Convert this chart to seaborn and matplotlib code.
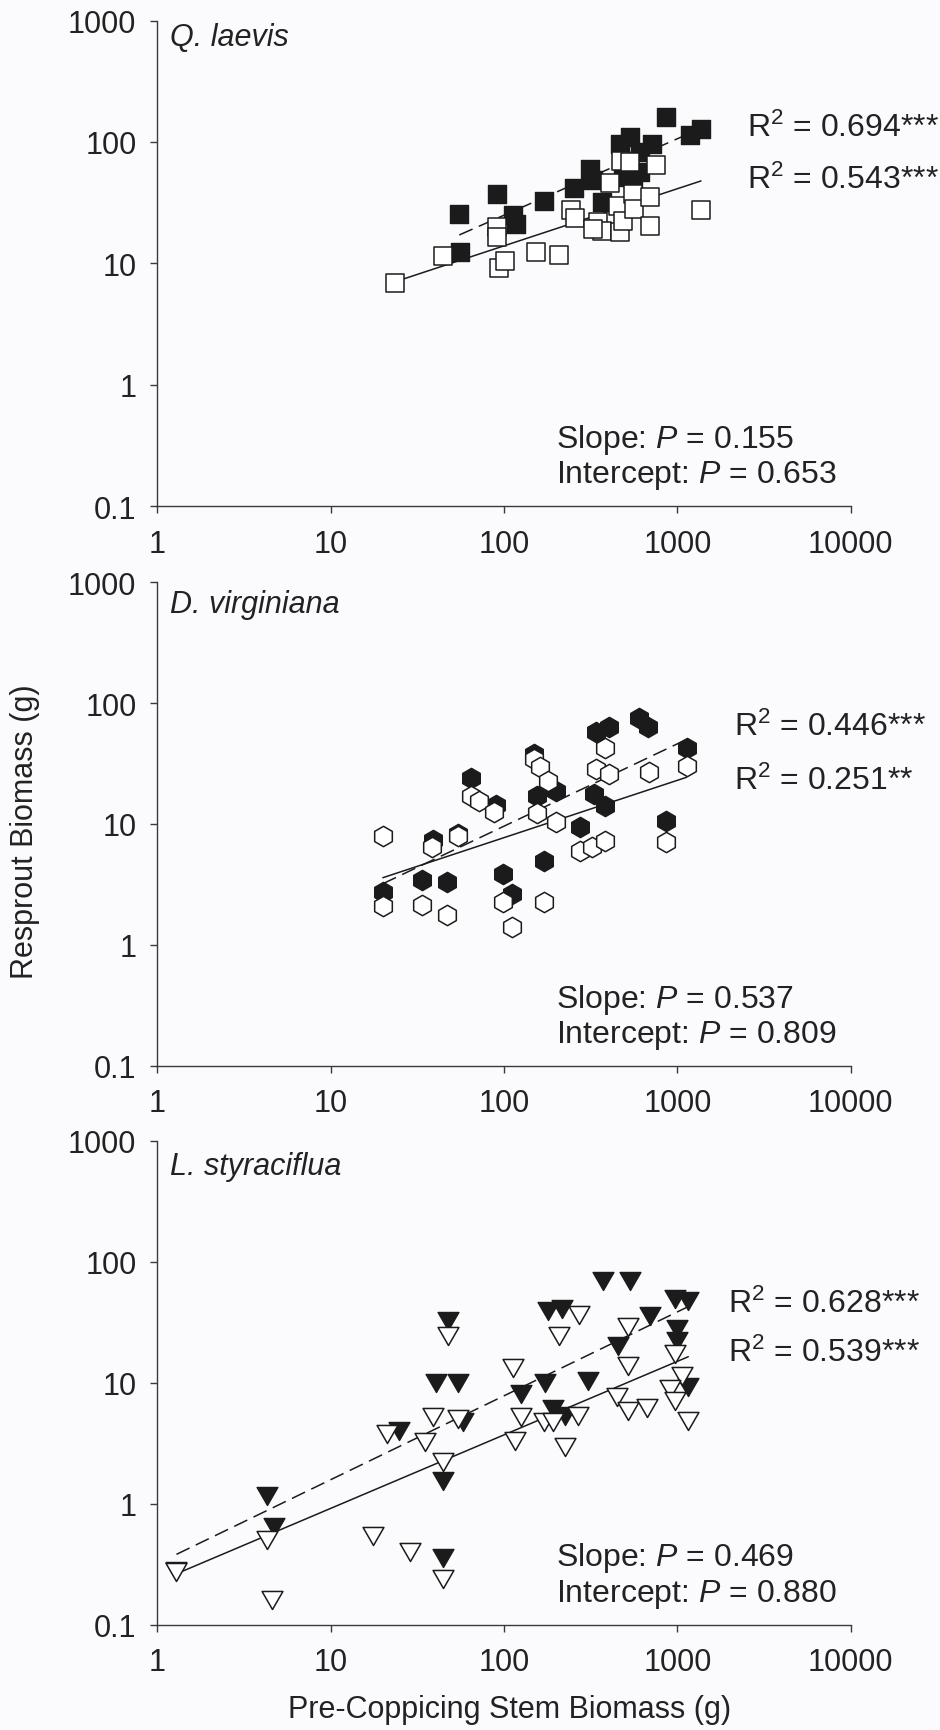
import numpy as np
import pandas as pd
import matplotlib
matplotlib.use("Agg")
import matplotlib.pyplot as plt
from matplotlib.markers import MarkerStyle
from matplotlib.path import Path
import seaborn as sns

# ---- data: pre-coppicing stem biomass (g) vs resprout biomass (g) ----
# Quercus laevis
ql_filled_x = [55.2, 91.5, 113, 118, 169, 254, 313, 325, 55.7, 366, 467, 533, 711, 609,
               488, 557, 609, 857, 1183, 1369]
ql_filled_y = [25.6, 37.5, 25.0, 21.2, 32.7, 41.5, 59.8, 48.9, 12.3, 31.9, 96.2, 109, 96,
               82, 51.2, 49.5, 56.2, 161, 114, 128]
ql_open_x = [23.5, 44.3, 91.5, 91.5, 93.6, 102, 152, 208, 243, 257, 347, 366, 409, 456, 467,
             488, 473, 533, 557, 565, 695, 695, 750, 1369, 327]
ql_open_y = [6.86, 11.6, 20.0, 16.4, 9.16, 10.4, 12.3, 11.8, 27.7, 23.5, 21.8, 18.6, 45.7,
             29.9, 18.2, 22.5, 70.1, 68.8, 37.1, 28.1, 35.0, 20.2, 64.6, 27.7, 19.2]

# Diospyros virginiana
dv_filled_x = [64.3, 156, 199, 330, 381, 276, 859, 339, 404, 602, 673, 1130, 89.5, 39.0,
               54.4, 20.0, 33.5, 46.7, 98.4, 111, 171, 149]
dv_filled_y = [24.0, 16.9, 18.9, 17.7, 14.2, 9.4, 10.6, 57.4, 63.1, 75.4, 63.1, 42.5, 14.4,
               7.4, 8.3, 2.72, 3.44, 3.29, 3.86, 2.64, 4.97, 38]
dv_open_x = [20, 20, 38.6, 54.4, 33.5, 46.7, 64.3, 71.8, 88.1, 149, 162, 179, 156, 199, 98.4,
             111, 171, 276, 322, 385, 385, 339, 404, 684, 1130, 859]
dv_open_y = [8.0, 2.11, 6.4, 7.9, 2.14, 1.77, 17.1, 15.6, 12.5, 34.5, 29.5, 22.8, 12.3, 10.3,
             2.25, 1.40, 2.28, 5.94, 6.5, 7.3, 42.3, 28.5, 25.9, 26.8, 30.0, 7.1]

# Liquidambar styraciflua
ls_filled_x = [1.29, 47.3, 40.5, 54.5, 24.9, 58.2, 44.3, 4.28, 4.71, 44.3, 125, 172, 180, 215,
               192, 225, 306, 374, 533, 695, 970, 1156, 991, 991, 456, 1156]
ls_filled_y = [0.28, 32.6, 10.0, 10.0, 4.03, 4.78, 1.56, 1.17, 0.64, 0.356, 8.1, 9.9, 39.5,
               40.8, 6.1, 5.36, 10.4, 69.8, 68.9, 35.9, 49.3, 47.8, 27.9, 22.3, 20.3, 9.2]
ls_open_x = [1.29, 4.28, 17.6, 28.7, 21.1, 35.0, 39.1, 54.5, 44.3, 47.3, 4.6, 44.3, 112, 125,
             116, 171, 192, 271, 208, 268, 225, 521, 521, 447, 521, 666, 970, 1060, 907, 970,
             1156]
ls_open_y = [0.273, 0.50, 0.547, 0.40, 3.78, 3.23, 5.2, 5.03, 2.21, 24.5, 0.16, 0.24, 13.2,
             5.2, 3.33, 4.78, 4.76, 36.4, 24.5, 5.36, 2.97, 28.8, 13.9, 7.6, 5.9, 6.2, 17.3,
             11.5, 8.9, 7.1, 4.87]

species = ["Q. laevis", "D. virginiana", "L. styraciflua"]
r2_filled = ["0.694***", "0.446***", "0.628***"]
r2_open = ["0.543***", "0.251**", "0.539***"]
slope_p = ["0.155", "0.537", "0.469"]
intercept_p = ["0.653", "0.809", "0.880"]

x_ticks = [1, 10, 100, 1000, 10000]
y_ticks = [0.1, 1, 10, 100, 1000]

# ---- style ----
sns.set_theme(style="ticks")
plt.rcParams["font.family"] = ["Liberation Sans", "DejaVu Sans"]
plt.rcParams["mathtext.fontset"] = "custom"
plt.rcParams["mathtext.rm"] = "Liberation Sans"
plt.rcParams["mathtext.it"] = "Liberation Sans:italic"
plt.rcParams["mathtext.default"] = "regular"

INK = "#1b1b1b"
BG = "#fbfbfd"
W, H = 940, 1731

# equilateral downward triangle, centred on its bounding box, closed outline
tri_down = MarkerStyle(Path([(-1, 0.866), (1, 0.866), (0, -0.866), (-1, 0.866)],
                            closed=True))

panels = [
    dict(fx=ql_filled_x, fy=ql_filled_y, ox=ql_open_x, oy=ql_open_y, marker="s", s=150,
         top=21.5, bottom=507.3, label_base=46, r2_x=747, r2_base=(137, 189),
         sp_base=(448, 483)),
    dict(fx=dv_filled_x, fy=dv_filled_y, ox=dv_open_x, oy=dv_open_y, marker="h", s=215,
         top=583.3, bottom=1066.7, label_base=613, r2_x=734, r2_base=(736, 790),
         sp_base=(1008, 1043)),
    dict(fx=ls_filled_x, fy=ls_filled_y, ox=ls_open_x, oy=ls_open_y, marker=tri_down, s=225,
         top=1141.7, bottom=1626, label_base=1175, r2_x=728, r2_base=(1313, 1362),
         sp_base=(1566, 1602)),
]

fig = plt.figure(figsize=(W / 100, H / 100), dpi=100, facecolor=BG)
x_left, x_right = 157.3, 850.7


def fig_xy(px, py):
    return px / W, 1 - py / H


def fit_line(xs, ys):
    lx, ly = np.log10(xs), np.log10(ys)
    b, a = np.polyfit(lx, ly, 1)
    xx = np.logspace(lx.min(), lx.max(), 50)
    return pd.DataFrame({"x": xx, "y": 10 ** (a + b * np.log10(xx))})


for i, p in enumerate(panels):
    ax = fig.add_axes([x_left / W, 1 - p["bottom"] / H, (x_right - x_left) / W,
                       (p["bottom"] - p["top"]) / H])
    ax.set_facecolor(BG)
    ax.set_xscale("log")
    ax.set_yscale("log")

    filled = pd.DataFrame({"x": p["fx"], "y": p["fy"]})
    opened = pd.DataFrame({"x": p["ox"], "y": p["oy"]})

    sns.lineplot(data=fit_line(filled.x.values, filled.y.values), x="x", y="y", ax=ax,
                 color=INK, lw=1.1, linestyle=(0, (9.5, 4.5)), zorder=1)
    sns.lineplot(data=fit_line(opened.x.values, opened.y.values), x="x", y="y", ax=ax,
                 color=INK, lw=1.1, zorder=1)
    sns.scatterplot(data=filled, x="x", y="y", ax=ax, marker=p["marker"], s=p["s"],
                    color=INK, edgecolor=INK, linewidth=1.0, zorder=2)
    sns.scatterplot(data=opened, x="x", y="y", ax=ax, marker=p["marker"], s=p["s"],
                    color="white", edgecolor=INK, linewidth=1.1, zorder=3)

    ax.set_xlim(1, 10000)
    ax.set_ylim(0.1, 1000)
    ax.set_xticks(x_ticks)
    ax.set_xticklabels([f"{v:g}" for v in x_ticks])
    ax.set_yticks(y_ticks)
    ax.set_yticklabels([f"{v:g}" for v in y_ticks])
    ax.minorticks_off()
    ax.set_xlabel("")
    ax.set_ylabel("")
    for side in ("top", "right"):
        ax.spines[side].set_visible(False)
    for side in ("left", "bottom"):
        ax.spines[side].set_color("#3a3a3a")
        ax.spines[side].set_linewidth(1.0)
    ax.tick_params(axis="both", direction="out", length=5, width=1.0, color="#3a3a3a",
                   labelsize=22, labelcolor="#222222")
    ax.tick_params(axis="x", pad=11)
    ax.tick_params(axis="y", pad=10)

    # annotations
    fig.text(*fig_xy(170, p["label_base"]), species[i], style="italic", fontsize=22,
             color="#222222", va="baseline", ha="left")
    fig.text(*fig_xy(p["r2_x"], p["r2_base"][0]), "R$^2$ = " + r2_filled[i], fontsize=23,
             color="#222222", va="baseline", ha="left")
    fig.text(*fig_xy(p["r2_x"], p["r2_base"][1]), "R$^2$ = " + r2_open[i], fontsize=23,
             color="#222222", va="baseline", ha="left")
    fig.text(*fig_xy(556, p["sp_base"][0]), r"Slope: $\mathit{P}$ = " + slope_p[i],
             fontsize=23, color="#222222", va="baseline", ha="left")
    fig.text(*fig_xy(556, p["sp_base"][1]), r"Intercept: $\mathit{P}$ = " + intercept_p[i],
             fontsize=23, color="#222222", va="baseline", ha="left")

fig.text(*fig_xy(25, 832), "Resprout Biomass (g)", rotation=90, fontsize=22,
         color="#222222", va="center", ha="center")
fig.text(*fig_xy(510, 1710), "Pre-Coppicing Stem Biomass (g)", fontsize=22,
         color="#222222", va="center", ha="center")

fig.savefig("out.png", dpi=100, facecolor=BG)
